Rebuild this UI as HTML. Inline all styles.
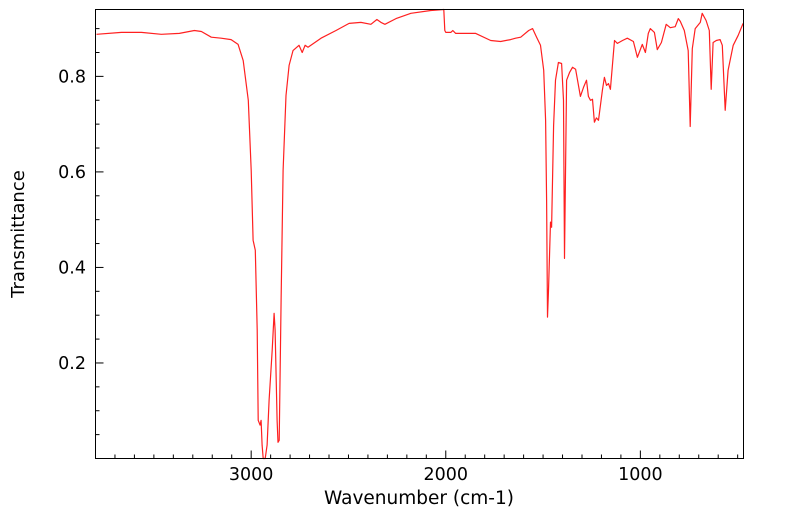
<!DOCTYPE html>
<html><head><meta charset="utf-8"><style>
html,body{margin:0;padding:0;background:#fff;}
svg text{font-family:"DejaVu Sans","Liberation Sans",sans-serif;fill:#000;}
</style></head><body>
<svg id="chart" width="799" height="516" viewBox="0 0 799 516">
<g id="axes"></g>
<path id="line" fill="none" stroke="#ff2020" stroke-width="1.2" stroke-linejoin="round"/>
<rect x="95.5" y="9.5" width="648" height="449" fill="none" stroke="#000" stroke-width="1"/>
<text x="419" y="504" font-size="18.5" text-anchor="middle">Wavenumber (cm-1)</text>
<text x="24" y="234" font-size="18" text-anchor="middle" transform="rotate(-90 24 234)">Transmittance</text>
</svg>
<script>
const wavenumbers=[3795,3667,3564,3462,3369,3292,3256,3205,3154,3103,3067,3041,3015,3000,2990,2979,2969,2964,2954,2949,2944,2938,2928,2918,2908,2892,2882,2877,2867,2862,2856,2846,2836,2821,2805,2785,2754,2738,2723,2708,2641,2564,2497,2436,2385,2354,2333,2313,2256,2179,2077,2010,2005,2000,1974,1964,1949,1846,1769,1718,1667,1641,1615,1574,1554,1533,1513,1497,1487,1482,1477,1472,1462,1456,1446,1436,1421,1405,1395,1390,1379,1364,1349,1333,1308,1292,1277,1267,1256,1246,1236,1226,1215,1195,1185,1174,1164,1154,1133,1118,1092,1067,1036,1015,990,974,959,949,928,913,892,867,846,821,805,795,774,754,744,733,718,692,682,662,646,636,626,610,590,579,564,549,523,497,472];
const transmittance=[.888,.892,.892,.888,.890,.896,.894,.882,.880,.877,.867,.833,.750,.603,.457,.436,.269,.080,.070,.080,.028,0,0,.028,.122,.227,.304,.269,.080,.034,.038,.331,.603,.760,.823,.854,.865,.850,.865,.861,.880,.896,.911,.913,.909,.919,.913,.909,.921,.932,.938,.940,.896,.892,.892,.896,.890,.890,.875,.873,.877,.880,.882,.896,.900,.882,.865,.813,.708,.541,.296,.352,.495,.484,.697,.792,.829,.827,.750,.419,.792,.808,.819,.815,.758,.777,.792,.758,.750,.752,.704,.713,.708,.771,.798,.781,.785,.773,.875,.869,.875,.880,.873,.840,.867,.850,.890,.900,.892,.856,.871,.909,.902,.904,.921,.915,.896,.854,.695,.858,.900,.913,.932,.917,.896,.773,.871,.875,.877,.865,.729,.813,.865,.886,.911];
const xTickLabels=[3000,2000,1000];
const yTickLabels=[0.2,0.4,0.6,0.8];
const X0=95.5,X1=743.5,Y0=458.5,Y1=9.5,WMAX=3800,WMIN=470,TMIN=0,TMAX=0.94;
function xs(w){return X0+(WMAX-w)/(WMAX-WMIN)*(X1-X0);}
function ys(t){return Y0-(t-TMIN)/(TMAX-TMIN)*(Y0-Y1);}
const NS="http://www.w3.org/2000/svg";
const axes=document.getElementById('axes');
function mk(tag,attrs){const e=document.createElementNS(NS,tag);for(const k in attrs)e.setAttribute(k,attrs[k]);axes.appendChild(e);return e;}
for(let w=500;w<=3700;w+=100){
 const x=xs(w);const major=w%1000===0;
 const t=mk('line',{x1:x,x2:x,y1:Y0,y2:Y0-(major?8:4),stroke:'#000','stroke-width':1});
 
 
}
xTickLabels.forEach(v=>{
 const t=mk('text',{x:xs(v),y:480,'font-size':17.5,'text-anchor':'middle'});t.textContent=v;
 
 
});
for(let i=1;i<=18;i++){
 const v=i*0.05;const y=ys(v);const major=i%4===0;
 const t=mk('line',{x1:X0,x2:X0+(major?8:4),y1:y,y2:y,stroke:'#000','stroke-width':1});
 
 
}
yTickLabels.forEach(v=>{
 const t=mk('text',{x:86,y:ys(v)+6,'font-size':17.5,'text-anchor':'end'});t.textContent=v.toFixed(1);
 
 
});
document.getElementById('line').setAttribute('d',wavenumbers.map((w,i)=>(i?'L':'M')+xs(w).toFixed(1)+' '+ys(transmittance[i]).toFixed(1)).join(' '));
</script>
</body></html>
